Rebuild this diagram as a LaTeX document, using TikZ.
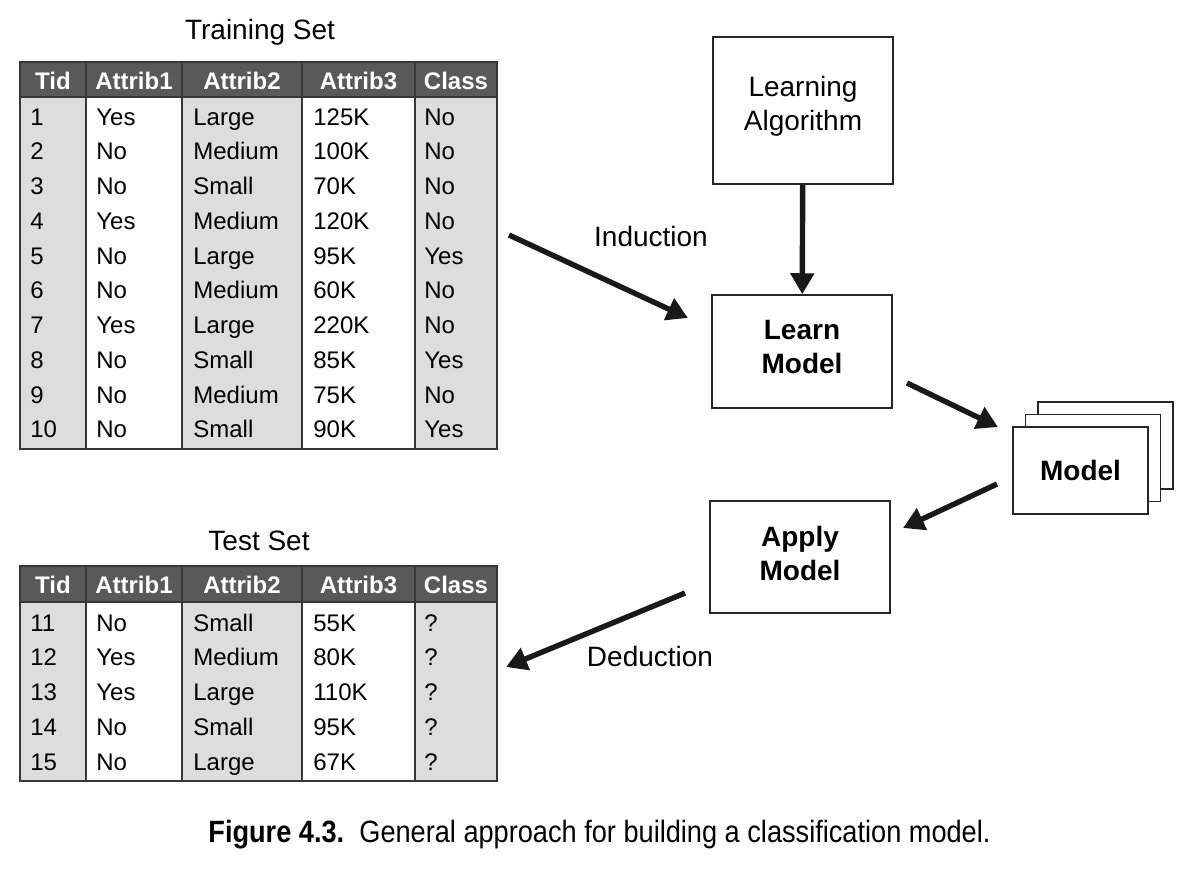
\documentclass[tikz,border=0pt]{standalone}
\usepackage{fontspec}
\setmainfont{Liberation Sans}
\newfontfamily\capfont[FakeStretch=0.882]{Liberation Sans}
\usepackage{tikz}
\usetikzlibrary{arrows.meta, positioning}
\definecolor{headgray}{RGB}{88,89,91}
\definecolor{cellgray}{RGB}{220,221,223}
\definecolor{linegray}{RGB}{55,55,57}
\tikzstyle{cell}=[anchor=base west,inner sep=0pt,font=\fontsize{12}{14}\selectfont]
\tikzstyle{headcell}=[anchor=base,inner sep=0pt,text=white,font=\fontsize{12}{14}\selectfont\bfseries]
\tikzstyle{tabletitle}=[anchor=base,inner sep=0pt,font=\fontsize{14}{16}\selectfont]
\tikzstyle{tableline}=[draw=linegray,line width=1pt]
\tikzstyle{staterect}=[shape=rectangle,draw=black!85,fill=white,line width=0.75pt,align=center,font=\fontsize{14}{17}\selectfont]
\tikzstyle{mainedge}=[-{Triangle[length=10.5pt,width=11.5pt]},line width=2.7pt,black!90]

\begin{document}
\begin{tikzpicture}[x=0.5pt,y=-0.5pt]
\useasboundingbox (0,0) rectangle (1193,875);

% training set
\node[tabletitle] (train_title) at (260,39) {Training Set};
\fill[cellgray] (20,97) rectangle (86,449);
\fill[cellgray] (182,97) rectangle (302,449);
\fill[cellgray] (415,97) rectangle (497,449);
\fill[headgray] (20,62) rectangle (497,97);
\draw[tableline] (20,62) rectangle (497,449);
\draw[tableline] (20,97) -- (497,97);
\foreach \x in {86,182,302,415} \draw[tableline] (\x,62) -- (\x,449);
\foreach \c/\x/\t in {1/53/Tid, 2/134/Attrib1, 3/242/Attrib2, 4/358.5/Attrib3, 5/456/Class}
  \node[headcell] (tr_h\c) at (\x,89) {\t};
\foreach \r/\a/\b/\c/\d/\e in {1/1/Yes/Large/125K/No, 2/2/No/Medium/100K/No, 3/3/No/Small/70K/No,
    4/4/Yes/Medium/120K/No, 5/5/No/Large/95K/Yes, 6/6/No/Medium/60K/No, 7/7/Yes/Large/220K/No,
    8/8/No/Small/85K/Yes, 9/9/No/Medium/75K/No, 10/10/No/Small/90K/Yes} {
  \node[cell] (tr_\r_1) at (30,{125+34.75*(\r-1)}) {\a};
  \node[cell] (tr_\r_2) at (96,{125+34.75*(\r-1)}) {\b};
  \node[cell] (tr_\r_3) at (193,{125+34.75*(\r-1)}) {\c};
  \node[cell] (tr_\r_4) at (313,{125+34.75*(\r-1)}) {\d};
  \node[cell] (tr_\r_5) at (424,{125+34.75*(\r-1)}) {\e};
}

% test set
\node[tabletitle] (test_title) at (259,550) {Test Set};
\fill[cellgray] (20,602) rectangle (86,781);
\fill[cellgray] (182,602) rectangle (302,781);
\fill[cellgray] (415,602) rectangle (497,781);
\fill[headgray] (20,566) rectangle (497,602);
\draw[tableline] (20,566) rectangle (497,781);
\draw[tableline] (20,602) -- (497,602);
\foreach \x in {86,182,302,415} \draw[tableline] (\x,566) -- (\x,781);
\foreach \c/\x/\t in {1/53/Tid, 2/134/Attrib1, 3/242/Attrib2, 4/358.5/Attrib3, 5/456/Class}
  \node[headcell] (te_h\c) at (\x,593) {\t};
\foreach \r/\a/\b/\c/\d in {1/11/No/Small/55K, 2/12/Yes/Medium/80K, 3/13/Yes/Large/110K,
    4/14/No/Small/95K, 5/15/No/Large/67K} {
  \node[cell] (te_\r_1) at (30,{631+34.75*(\r-1)}) {\a};
  \node[cell] (te_\r_2) at (96,{631+34.75*(\r-1)}) {\b};
  \node[cell] (te_\r_3) at (193,{631+34.75*(\r-1)}) {\c};
  \node[cell] (te_\r_4) at (313,{631+34.75*(\r-1)}) {\d};
  \node[cell] (te_\r_5) at (424,{631+34.75*(\r-1)}) {?};
}

% boxes
\node[staterect,minimum width=90pt,minimum height=73.5pt] (la) at (803,110.5) {Learning\\Algorithm\rule[-7pt]{0pt}{7pt}};
\node[staterect,minimum width=90pt,minimum height=56.5pt,font=\fontsize{14}{17}\selectfont\bfseries] (lm) at (802,351.5) {Learn\\Model\rule[-5pt]{0pt}{5pt}};
\node[staterect,minimum width=90pt,minimum height=56pt,font=\fontsize{14}{17}\selectfont\bfseries] (am) at (800,557) {Apply\\Model\rule[-4pt]{0pt}{4pt}};
\node[staterect,minimum width=67.5pt,minimum height=43.5pt] (model_3) at (1105.5,445.5) {};
\node[staterect,minimum width=67.5pt,minimum height=43.5pt] (model_2) at (1093,458) {};
\node[staterect,minimum width=67.5pt,minimum height=43.5pt,font=\fontsize{14}{17}\selectfont\bfseries] (model) at (1080.5,470.5) {Model};

% arrows
\coordinate (ind_a) at (509,235);
\coordinate (ind_b) at (688,318);
\coordinate (lm_a) at (907,383);
\coordinate (lm_b) at (998,427);
\coordinate (ap_a) at (997,484);
\coordinate (ap_b) at (903,528);
\coordinate (ded_a) at (685,593);
\coordinate (ded_b) at (506,667);
\draw[mainedge] (la) -- (lm);
\draw[mainedge] (ind_a) -- (ind_b);
\draw[mainedge] (lm_a) -- (lm_b);
\draw[mainedge] (ap_a) -- (ap_b);
\draw[mainedge] (ded_a) -- (ded_b);
\node[font=\fontsize{14}{17}\selectfont] (ind_label) at (651,236) {Induction};
\node[font=\fontsize{14}{17}\selectfont] (ded_label) at (650,656) {Deduction};

% caption
\node[anchor=base west,inner sep=0pt,font=\capfont\fontsize{15.4}{18}\selectfont] (caption) at (208,842)
  {\textbf{Figure 4.3.}\ \ General approach for building a classification model.};

\end{tikzpicture}
\end{document}
